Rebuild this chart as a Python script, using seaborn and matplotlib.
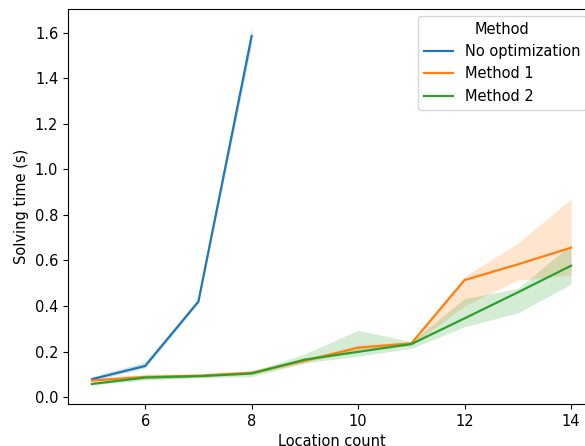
import matplotlib
matplotlib.use("Agg")
import matplotlib.pyplot as plt
import seaborn as sns
import pandas as pd
import numpy as np

methods = ["No optimization", "Method 1", "Method 2"]

x_noopt = [5, 6, 7, 8]
mean_noopt = [0.079, 0.137, 0.420, 1.585]
low_noopt = [0.072, 0.128, 0.412, 1.550]
high_noopt = [0.090, 0.155, 0.428, 1.626]

x_m1 = [5, 6, 7, 8, 9, 10, 11, 12, 13, 14]
mean_m1 = [0.073, 0.089, 0.094, 0.107, 0.160, 0.217, 0.236, 0.514, 0.583, 0.656]
low_m1 = [0.065, 0.080, 0.087, 0.099, 0.152, 0.205, 0.228, 0.400, 0.514, 0.536]
high_m1 = [0.082, 0.100, 0.104, 0.118, 0.170, 0.228, 0.245, 0.530, 0.675, 0.870]

x_m2 = [5, 6, 7, 8, 9, 10, 11, 12, 13, 14]
mean_m2 = [0.058, 0.086, 0.092, 0.104, 0.165, 0.199, 0.233, 0.346, 0.460, 0.577]
low_m2 = [0.053, 0.075, 0.086, 0.090, 0.150, 0.180, 0.214, 0.309, 0.370, 0.496]
high_m2 = [0.064, 0.095, 0.098, 0.112, 0.190, 0.294, 0.243, 0.433, 0.477, 0.670]

df = pd.DataFrame({
    "Location count": x_noopt + x_m1 + x_m2,
    "Solving time (s)": mean_noopt + mean_m1 + mean_m2,
    "Method": [methods[0]] * len(x_noopt) + [methods[1]] * len(x_m1) + [methods[2]] * len(x_m2),
})

plt.rcParams["font.size"] = 10.5
palette = sns.color_palette("tab10", 3)

W, H = 585, 446
fig = plt.figure(figsize=(W / 100, H / 100), dpi=100)
ax = fig.add_axes([68 / W, 1 - 404 / H, (595 - 68) / W, (404 - 9) / H])

sns.lineplot(data=df, x="Location count", y="Solving time (s)", hue="Method",
             hue_order=methods, palette=palette, errorbar=None, ax=ax, linewidth=1.6)

bands = [(x_noopt, low_noopt, high_noopt), (x_m1, low_m1, high_m1), (x_m2, low_m2, high_m2)]
for (xs, lo, hi), c in zip(bands, palette):
    ax.fill_between(xs, lo, hi, color=c, alpha=0.2, linewidth=0)

ax.set_yticks([0.0, 0.2, 0.4, 0.6, 0.8, 1.0, 1.2, 1.4, 1.6])
ax.set_xticks([6, 8, 10, 12, 14])
ax.set_xlim(4.55, 14.45)
ax.set_ylim(-0.03, 1.704)
ax.legend(title="Method", loc="upper left", borderaxespad=0,
          bbox_to_anchor=(418 / W, 1 - 16 / H), bbox_transform=fig.transFigure)

fig.savefig("out.png", dpi=100)
